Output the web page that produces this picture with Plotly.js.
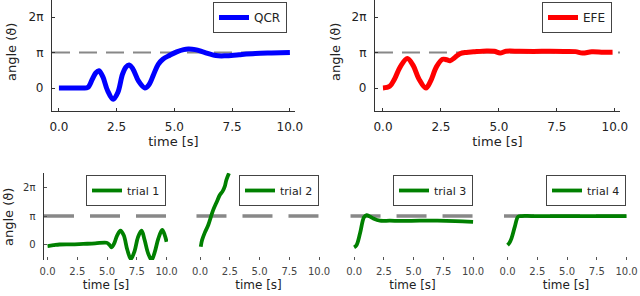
<!DOCTYPE html>
<html>
<head>
<meta charset="utf-8">
<script src="https://cdn.plot.ly/plotly-3.0.1.min.js"></script>
<style>html,body{margin:0;padding:0;background:#fff}#chart{width:640px;height:296px}</style>
</head>
<body>
<div id="chart"></div>
<script>
// ---- data ----
const PI = Math.PI;
const yTickVals = [0, PI, 2 * PI];
const yTickText = ['0', 'π', '2π'];
const xTickVals = [0, 2.5, 5, 7.5, 10];
const xTickText = ['0.0', '2.5', '5.0', '7.5', '10.0'];
const targetAngle = PI;

const qcrT = [0, 0.5, 1.0, 1.25, 1.45, 1.6, 1.73, 1.9, 2.1, 2.35, 2.55, 2.75, 2.9, 3.04, 3.2, 3.45, 3.72, 3.9, 4.1, 4.3, 4.5, 4.8, 5.1, 5.4, 5.6, 5.9, 6.3, 6.8, 7.2, 7.8, 8.5, 9.2, 10];
const qcrAngle = [0, 0, 0, 0.05, 0.8, 1.35, 1.53, 1.0, -0.2, -1.0, -0.4, 1.2, 1.85, 2.04, 1.7, 0.6, 0.0, 0.3, 1.2, 2.1, 2.55, 2.9, 3.2, 3.4, 3.45, 3.4, 3.15, 2.87, 2.85, 2.95, 3.05, 3.1, 3.14];

const efeT = [0, 0.29, 0.5, 0.75, 1.05, 1.3, 1.55, 1.85, 2.05, 2.31, 2.57, 2.75, 2.89, 3.1, 3.32, 3.6, 3.9, 4.47, 4.8, 5.05, 5.3, 5.88, 6.5, 7.2, 7.8, 8.3, 8.6, 9.0, 9.5, 9.9];
const efeAngle = [0, 0.15, 0.8, 1.9, 2.62, 2.0, 0.8, 0.0, 0.6, 1.89, 2.54, 2.5, 2.42, 2.7, 3.04, 3.15, 3.2, 3.28, 3.25, 3.1, 3.25, 3.25, 3.24, 3.25, 3.24, 3.22, 3.1, 3.2, 3.17, 3.17];

const trial1T = [0, 0.5, 1, 2, 3, 4, 4.96, 5.2, 5.38, 5.6, 5.85, 6.13, 6.4, 6.7, 7.0, 7.3, 7.6, 7.9, 8.15, 8.45, 8.74, 9.0, 9.3, 9.63, 9.85, 10];
const trial1Angle = [-0.19, -0.1, -0.02, 0.0, 0.05, 0.1, 0.18, -0.05, -0.33, 0.1, 1.0, 1.51, 1.0, -0.6, -1.63, -0.8, 0.8, 1.51, 0.5, -1.0, -1.74, -0.9, 0.6, 1.6, 1.0, 0.29];

const trial2T = [0.06, 0.17, 0.4, 0.69, 0.9, 1.1, 1.4, 1.66, 1.9, 2.07, 2.21, 2.43];
const trial2Angle = [-0.26, 0.47, 1.3, 2.14, 3.0, 3.8, 4.7, 5.47, 5.9, 6.4, 7.14, 7.88];

const trial3T = [0, 0.2, 0.5, 0.83, 1.05, 1.3, 1.6, 2.17, 3, 4, 5.5, 7, 8.5, 10];
const trial3Angle = [-0.33, -0.1, 1.22, 3.0, 3.25, 3.1, 2.88, 2.62, 2.62, 2.6, 2.62, 2.62, 2.58, 2.5];

const trial4T = [0, 0.15, 0.33, 0.61, 0.89, 1.2, 2, 4, 6, 8, 10];
const trial4Angle = [-0.08, 0.15, 0.66, 1.96, 3.07, 3.14, 3.14, 3.14, 3.14, 3.14, 3.14];

const topNames = ['QCR', 'EFE'];
const trialNames = ['trial 1', 'trial 2', 'trial 3', 'trial 4'];

// ---- styling ----
const FONT = 'DejaVu Sans, sans-serif';
const txt = '#222';
const green = '#008000';

const traces = [
  {x: qcrT, y: qcrAngle, xaxis: 'x', yaxis: 'y', name: topNames[0], legend: 'legend',
   mode: 'lines', line: {color: '#0000ff', width: 5, shape: 'spline'}},
  {x: efeT, y: efeAngle, xaxis: 'x2', yaxis: 'y2', name: topNames[1], legend: 'legend2',
   mode: 'lines', line: {color: '#ff0000', width: 5, shape: 'spline'}},
];
const trialData = [[trial1T, trial1Angle], [trial2T, trial2Angle], [trial3T, trial3Angle], [trial4T, trial4Angle]];
trialData.forEach((d, i) => {
  traces.push({x: d[0], y: d[1], xaxis: 'x' + (i + 3), yaxis: 'y' + (i + 3), name: trialNames[i],
    legend: 'legend' + (i + 3), mode: 'lines', line: {color: green, width: 3.8, shape: 'spline'}});
});

function topX(domain, range) {
  return {domain: domain, range: range, tickvals: xTickVals, ticktext: xTickText,
    ticks: 'inside', ticklen: 3, tickcolor: '#333', showline: true, linecolor: '#333', linewidth: 1.2,
    showgrid: false, zeroline: false, tickfont: {size: 12, color: txt}, ticklabelstandoff: 4,
    title: {text: 'time [s]', font: {size: 13, color: txt}, standoff: 3}};
}
function topY(domain, anchor) {
  return {domain: domain, anchor: anchor, range: [-2.035, 7.79], tickvals: yTickVals, ticktext: yTickText,
    ticks: 'inside', ticklen: 3, tickcolor: '#333', showline: true, linecolor: '#333', linewidth: 1.2,
    showgrid: false, zeroline: false, tickfont: {size: 12, color: txt}, ticklabelstandoff: 5};
}
function botX(domain, anchor) {
  return {domain: domain, anchor: anchor, range: [-0.3, 10.12], tickvals: xTickVals, ticktext: xTickText,
    ticks: 'inside', ticklen: 3, tickcolor: '#555', showline: false, showgrid: false, zeroline: false,
    tickfont: {size: 10, color: '#444'}, ticklabelstandoff: 4,
    title: {text: 'time [s]', font: {size: 12, color: txt}, standoff: 4}};
}
function botY(domain, anchor, show) {
  return {domain: domain, anchor: anchor, range: [-1.74, 7.95], tickvals: yTickVals, ticktext: yTickText,
    ticks: show ? 'inside' : '', ticklen: 3, tickcolor: '#555', showline: show, linecolor: '#333', linewidth: 1.5,
    showticklabels: show, showgrid: false, zeroline: false, tickfont: {size: 10, color: '#333'}, ticklabelstandoff: 5};
}

const topDom = [0.625, 1];
const botDom = [0.1216, 0.4166];

function legendAt(xRightPx, yTopPx, size) {
  return {x: xRightPx / 640, y: 1 - yTopPx / 296, xanchor: 'right', yanchor: 'top',
    bgcolor: '#fff', bordercolor: '#444', borderwidth: 1, font: {size: size, color: txt, family: FONT},
    itemwidth: 30, tracegroupgap: 0};
}

const refLine = (xr, yr, w, dash) => ({type: 'line', xref: xr + ' domain', yref: yr, x0: 0, x1: 1,
  y0: targetAngle, y1: targetAngle, line: {color: '#888', width: w, dash: dash}, layer: 'below'});

const layout = {
  width: 640, height: 296, margin: {l: 0, r: 0, t: 0, b: 0},
  paper_bgcolor: '#fff', plot_bgcolor: '#fff', font: {family: FONT, color: txt},
  showlegend: true,
  xaxis: topX([0.08125, 0.4609], [-0.30, 10.22]),
  yaxis: topY(topDom, 'x'),
  xaxis2: Object.assign(topX([0.5859, 0.96875], [-0.345, 10.22]), {anchor: 'y2'}),
  yaxis2: topY(topDom, 'x2'),
  xaxis3: botX([0.06875, 0.2625], 'y3'),
  yaxis3: botY(botDom, 'x3', true),
  xaxis4: botX([0.307, 0.5008], 'y4'),
  yaxis4: botY(botDom, 'x4', false),
  xaxis5: botX([0.5477, 0.7414], 'y5'),
  yaxis5: botY(botDom, 'x5', false),
  xaxis6: botX([0.7875, 0.98125], 'y6'),
  yaxis6: botY(botDom, 'x6', false),
  legend: legendAt(287, 2, 12),
  legend2: legendAt(612, 2, 12),
  legend3: legendAt(166, 175, 11),
  legend4: legendAt(319, 175, 11),
  legend5: legendAt(473, 175, 11),
  legend6: legendAt(626, 175, 11),
  shapes: [
    refLine('x', 'y', 2, '18px,9px'),
    refLine('x2', 'y2', 2, '18px,9px'),
    refLine('x3', 'y3', 3.5, '30px,16px'),
    refLine('x4', 'y4', 3.5, '30px,16px'),
    refLine('x5', 'y5', 3.5, '30px,16px'),
    refLine('x6', 'y6', 3.5, '30px,16px'),
  ],
  annotations: [
    {text: 'angle (ϑ)', xref: 'paper', yref: 'paper', x: 12 / 640, y: 1 - 52 / 296, textangle: -90,
     showarrow: false, font: {size: 13, color: txt}, xanchor: 'center', yanchor: 'middle'},
    {text: 'angle (ϑ)', xref: 'paper', yref: 'paper', x: 336 / 640, y: 1 - 52 / 296, textangle: -90,
     showarrow: false, font: {size: 13, color: txt}, xanchor: 'center', yanchor: 'middle'},
    {text: 'angle (ϑ)', xref: 'paper', yref: 'paper', x: 8 / 640, y: 1 - 217 / 296, textangle: -90,
     showarrow: false, font: {size: 13, color: txt}, xanchor: 'center', yanchor: 'middle'},
  ],
};

Plotly.newPlot('chart', traces, layout, {staticPlot: true, displayModeBar: false});
</script>
</body>
</html>
